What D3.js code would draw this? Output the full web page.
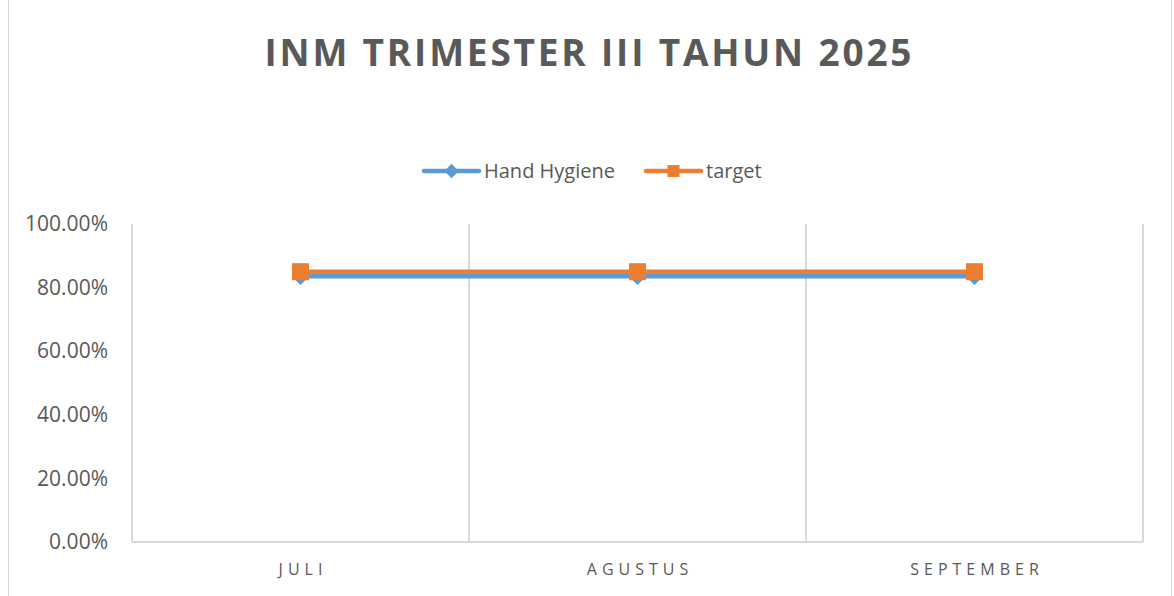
<!DOCTYPE html>
<html>
<head>
<meta charset="utf-8">
<script src="https://cdn.jsdelivr.net/npm/d3@7"></script>
<style>
  body { margin: 0; background: #fff; }
  text { font-family: "Open Sans", sans-serif; fill: #595959; }
</style>
</head>
<body>
<script>
// chart data
var months = ["JULI", "AGUSTUS", "SEPTEMBER"];
var handHygiene = [0.836, 0.836, 0.836];
var target = [0.85, 0.85, 0.85];
var yTicks = [0, 0.2, 0.4, 0.6, 0.8, 1.0];

var W = 1174, H = 596;
var plot = {left: 132, right: 1143, top: 224, bottom: 542};

var svg = d3.select('body').append('svg')
  .attr('width', W)
  .attr('height', H);

// chart area border
svg.append('rect')
  .attr('x', 8.5).attr('y', -2)
  .attr('width', 1163).attr('height', H + 4)
  .attr('fill', 'none')
  .attr('stroke', '#d9d9d9')
  .attr('stroke-width', 1);

var x = d3.scaleBand().domain(months).range([plot.left, plot.right]);
var y = d3.scaleLinear().domain([0, 1]).range([plot.bottom, plot.top]);

// vertical gridlines on category boundaries
var edges = months.map(function(m) { return x(m); }).concat([plot.right]);
svg.selectAll('.vgrid')
  .data(edges)
  .enter().append('line')
  .attr('class', 'vgrid')
  .attr('x1', function(d) { return d; })
  .attr('x2', function(d) { return d; })
  .attr('y1', plot.top)
  .attr('y2', plot.bottom)
  .attr('stroke', '#d9d9d9')
  .attr('stroke-width', 2);

// bottom axis line
svg.append('line')
  .attr('x1', plot.left).attr('x2', plot.right)
  .attr('y1', plot.bottom).attr('y2', plot.bottom)
  .attr('stroke', '#d9d9d9')
  .attr('stroke-width', 2);

// y axis labels
var yAxis = d3.axisLeft(y)
  .tickValues(yTicks)
  .tickFormat(d3.format('.2%'))
  .tickSize(0)
  .tickPadding(24);
var gy = svg.append('g')
  .attr('transform', 'translate(' + plot.left + ',0)')
  .call(yAxis);
gy.select('.domain').remove();
gy.selectAll('text')
  .style('font-size', '21px')
  .style('font-family', '"Open Sans", sans-serif')
  .attr('fill', '#595959');

// x axis labels
var xAxis = d3.axisBottom(x).tickSize(0).tickPadding(22);
var gx = svg.append('g')
  .attr('transform', 'translate(0,' + plot.bottom + ')')
  .call(xAxis);
gx.select('.domain').remove();
gx.selectAll('text')
  .style('font-size', '16px')
  .style('letter-spacing', '5px')
  .style('font-family', '"Open Sans", sans-serif')
  .attr('fill', '#595959')
  .attr('dx', '2.5px');

var cx = function(d, i) { return x(months[i]) + x.bandwidth() / 2; };
var line = d3.line()
  .x(function(d, i) { return cx(d, i); })
  .y(function(d) { return y(d); });

var blue = '#5b9bd5', orange = '#ed7d31';

// Hand Hygiene series
svg.append('path')
  .datum(handHygiene)
  .attr('d', line)
  .attr('fill', 'none')
  .attr('stroke', blue)
  .attr('stroke-width', 4.5);
svg.selectAll('.hh')
  .data(handHygiene)
  .enter().append('path')
  .attr('class', 'hh')
  .attr('d', d3.symbol().type(d3.symbolDiamond2).size(200))
  .attr('transform', function(d, i) { return 'translate(' + cx(d, i) + ',' + y(d) + ')'; })
  .attr('fill', blue);

// target series
svg.append('path')
  .datum(target)
  .attr('d', line)
  .attr('fill', 'none')
  .attr('stroke', orange)
  .attr('stroke-width', 4.5);
svg.selectAll('.tg')
  .data(target)
  .enter().append('rect')
  .attr('class', 'tg')
  .attr('x', function(d, i) { return cx(d, i) - 8.5; })
  .attr('y', function(d) { return y(d) - 8.5; })
  .attr('width', 17)
  .attr('height', 17)
  .attr('fill', orange);

// title
svg.append('text')
  .attr('x', 588)
  .attr('y', 66)
  .attr('text-anchor', 'middle')
  .attr('textLength', 647)
  .attr('lengthAdjust', 'spacing')
  .style('font-size', '37px')
  .style('font-weight', 'bold')
  .text('INM TRIMESTER III TAHUN 2025');

// legend
var legendItems = [
  {name: 'Hand Hygiene', color: blue, x0: 424, shape: 'diamond'},
  {name: 'target', color: orange, x0: 646, shape: 'square'}
];
var lg = svg.selectAll('.legend')
  .data(legendItems)
  .enter().append('g')
  .attr('class', 'legend')
  .attr('transform', function(d) { return 'translate(' + d.x0 + ',171)'; });
lg.append('line')
  .attr('x1', 0).attr('x2', 55)
  .attr('stroke', function(d) { return d.color; })
  .attr('stroke-width', 4.5)
  .attr('stroke-linecap', 'round');
lg.append('path')
  .attr('d', function(d) {
    return d.shape === 'diamond'
      ? d3.symbol().type(d3.symbolDiamond2).size(130)()
      : 'M-6,-6H6V6H-6Z';
  })
  .attr('transform', 'translate(27.5,0)')
  .attr('fill', function(d) { return d.color; });
lg.append('text')
  .attr('x', 60)
  .attr('y', 7)
  .style('font-size', '20px')
  .text(function(d) { return d.name; });
</script>
</body>
</html>
